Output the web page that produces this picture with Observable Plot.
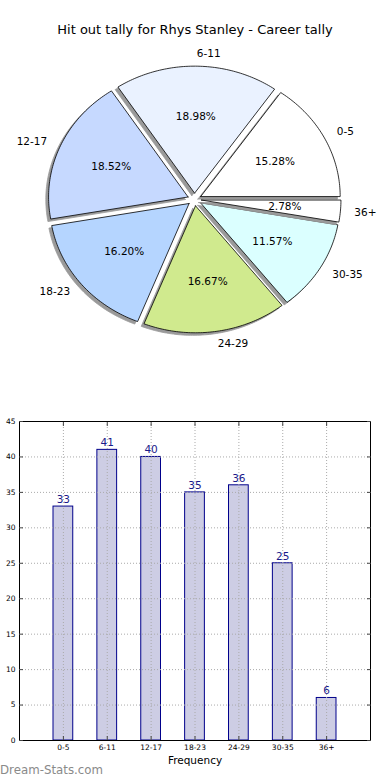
<!DOCTYPE html>
<html>
<head>
<meta charset="utf-8">
<script src="https://cdn.jsdelivr.net/npm/d3@7"></script>
<script src="https://cdn.jsdelivr.net/npm/@observablehq/plot@0.6"></script>
<style>
  html, body { margin: 0; padding: 0; background: #fff; }
  body { width: 390px; height: 780px; position: relative; overflow: hidden; font-family: "DejaVu Sans", sans-serif; }
  #title { position: absolute; top: 21px; left: 0; width: 390px; text-align: center; font-size: 13px; line-height: 18px; color: #000; }
  #pie { position: absolute; top: 45px; left: 0; }
  #bar { position: absolute; top: 400px; left: 0; }
  #wm { position: absolute; left: 0; top: 762px; font-size: 11.8px; line-height: 16px; color: #8a8a8a; }
</style>
</head>
<body>
<div id="title"></div>
<div id="pie"></div>
<div id="bar"></div>
<div id="wm"></div>
<script>
// ---- data ----
const titleText = "Hit out tally for Rhys Stanley - Career tally";
const categories = ["0-5", "6-11", "12-17", "18-23", "24-29", "30-35", "36+"];
const counts = [33, 41, 40, 35, 36, 25, 6];
const sliceColors = ["#ffffff", "#eaf2ff", "#c6d9ff", "#b5d5ff", "#d0ea8e", "#dbffff", "#ffffff"];
const yTicks = [0, 5, 10, 15, 20, 25, 30, 35, 40, 45];
const xLabel = "Frequency";
const watermark = "Dream-Stats.com";

document.getElementById("title").textContent = titleText;
document.getElementById("wm").textContent = watermark;

// ---- pie geometry (matplotlib-like: start at 0°, counter-clockwise) ----
const total = d3.sum(counts);
const explode = 0.05, shadowDx = -0.02, shadowDy = -0.02;
const rad = Math.PI / 180;
let acc = 0;
const wedges = categories.map((c, i) => {
  const t1 = acc / total * 360;
  acc += counts[i];
  const t2 = acc / total * 360;
  const mid = (t1 + t2) / 2;
  const ex = explode * Math.cos(mid * rad), ey = explode * Math.sin(mid * rad);
  return {
    category: c, count: counts[i], t1, t2, mid, ex, ey,
    pct: counts[i] / total * 100,
    lx: ex + 1.1 * Math.cos(mid * rad), ly: ey + 1.1 * Math.sin(mid * rad),
    px: ex + 0.6 * Math.cos(mid * rad), py: ey + 0.6 * Math.sin(mid * rad)
  };
});
function wedgePoints(w, ox, oy) {
  const cx = w.ex + ox, cy = w.ey + oy;
  const pts = [{x: cx, y: cy, category: w.category}];
  const n = Math.max(2, Math.ceil(w.t2 - w.t1));
  for (let k = 0; k <= n; k++) {
    const a = (w.t1 + (w.t2 - w.t1) * k / n) * rad;
    pts.push({x: cx + Math.cos(a), y: cy + Math.sin(a), category: w.category});
  }
  pts.push({x: cx, y: cy, category: w.category});
  return pts;
}

const pieW = 390, pieH = 355;
const cxPx = 194, cyPx = 154, Rx = 139.5, Ry = 127;
const pieMarks = [];
wedges.forEach(w => {
  pieMarks.push(Plot.line(wedgePoints(w, shadowDx, shadowDy), {x: "x", y: "y", fill: "#9a9a9a", stroke: "#9a9a9a", strokeWidth: 0.8}));
  pieMarks.push(Plot.line(wedgePoints(w, 0, 0), {x: "x", y: "y", fill: "category", stroke: "#000", strokeWidth: 0.8, strokeLinejoin: "miter"}));
});
pieMarks.push(Plot.text(wedges.filter(d => d.lx > 0), {x: "lx", y: "ly", text: "category", textAnchor: "start", fontSize: 10.5, fill: "#000"}));
pieMarks.push(Plot.text(wedges.filter(d => d.lx <= 0), {x: "lx", y: "ly", text: "category", textAnchor: "end", fontSize: 10.5, fill: "#000"}));
pieMarks.push(Plot.text(wedges, {x: "px", y: "py", text: d => d.pct.toFixed(2) + "%", fontSize: 10.5, fill: "#000"}));

const pie = Plot.plot({
  width: pieW, height: pieH,
  margin: 0,
  style: {fontFamily: "DejaVu Sans", background: "transparent"},
  x: {domain: [-cxPx / Rx, (pieW - cxPx) / Rx], range: [0, pieW], axis: null},
  y: {domain: [(cyPx - pieH) / Ry, cyPx / Ry], range: [pieH, 0], axis: null},
  color: {domain: categories, range: sliceColors},
  marks: pieMarks
});
document.getElementById("pie").append(pie);

// ---- bar chart ----
const barData = categories.map((c, i) => ({category: c, count: counts[i]}));
const gridStyle = {stroke: "#aaaaaa", strokeOpacity: 1, strokeDasharray: "1,2", strokeWidth: 1};
const bar = Plot.plot({
  width: 390, height: 370,
  marginLeft: 19, marginRight: 20, marginTop: 21, marginBottom: 30,
  style: {fontFamily: "DejaVu Sans", fontSize: "7.5px", background: "transparent"},
  x: {domain: categories, paddingInner: 0.55, paddingOuter: 0.775, round: false, axis: null},
  y: {domain: [0, 45], axis: null},
  marks: [
    Plot.barY(barData, {x: "category", y: "count", fill: "#cdcde4", stroke: "#00008b", strokeWidth: 1}),
    Plot.gridY({ticks: yTicks, ...gridStyle}),
    Plot.gridX({...gridStyle}),
    Plot.frame({stroke: "#000", strokeWidth: 1}),
    Plot.axisY({anchor: "left", ticks: yTicks, tickSize: -4, tickPadding: 8, label: null, stroke: "#444", fill: "#000"}),
    Plot.axisY({anchor: "right", ticks: yTicks, tickSize: -4, tickFormat: () => "", label: null, stroke: "#444"}),
    Plot.axisX({anchor: "bottom", tickSize: -4, tickPadding: 8, label: null, stroke: "#444", fill: "#000"}),
    Plot.axisX({anchor: "top", tickSize: -4, tickFormat: () => "", label: null, stroke: "#444"}),
    Plot.text(barData, {x: "category", y: "count", text: d => String(d.count), dy: -7, fontSize: 10.5, fill: "#1a1a8a"}),
    Plot.text([xLabel], {frameAnchor: "bottom", text: d => d, lineAnchor: "middle", dy: 20, fontSize: 10.5, fill: "#000"})
  ]
});
document.getElementById("bar").append(bar);
</script>
</body>
</html>
